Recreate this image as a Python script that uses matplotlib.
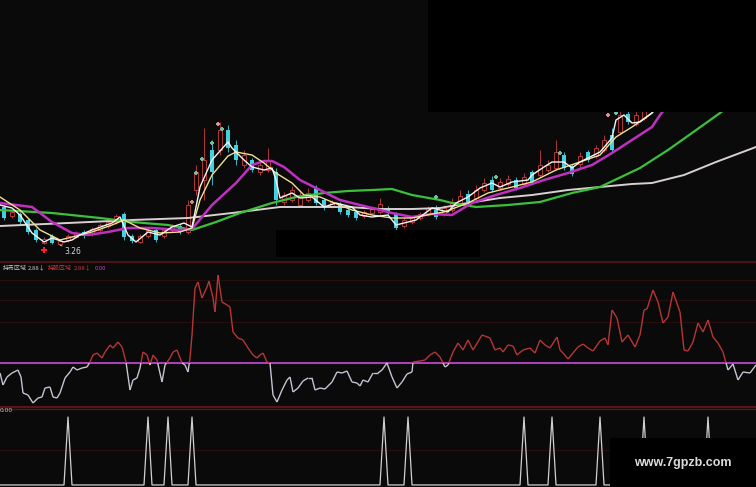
import numpy as np
import matplotlib
matplotlib.use("Agg")
import matplotlib.pyplot as plt
from matplotlib.collections import LineCollection
from matplotlib.patches import Rectangle

# -------------------------
# price candles (one every two days)
# -------------------------
candle_open = [3.64, 3.55, 3.57, 3.51, 3.41, 3.28, 3.35, 3.27, 3.31, 3.34,
               3.39, 3.37, 3.41, 3.45, 3.49, 3.57, 3.35, 3.29, 3.35, 3.41,
               3.35, 3.41, 3.45, 3.39, 3.81, 3.91, 4.21, 4.21, 4.41, 4.26,
               4.06, 4.11, 3.99, 4.01, 3.99, 3.69, 3.71, 3.66, 3.71, 3.83,
               3.71, 3.65, 3.67, 3.61, 3.59, 3.55, 3.58, 3.59, 3.63, 3.57,
               3.45, 3.49, 3.53, 3.57, 3.61, 3.57, 3.61, 3.67, 3.77, 3.73,
               3.81, 3.91, 3.83, 3.87, 3.91, 3.87, 3.99, 3.96, 4.01, 4.03,
               4.16, 4.05, 4.07, 4.19, 4.15, 4.21, 4.36, 4.39, 4.57, 4.47, 4.53]
candle_close = [3.53, 3.59, 3.49, 3.39, 3.31, 3.32, 3.28, 3.30, 3.35, 3.38,
                3.35, 3.42, 3.46, 3.49, 3.55, 3.34, 3.30, 3.35, 3.41, 3.31,
                3.41, 3.45, 3.39, 3.66, 3.99, 4.11, 3.99, 4.41, 4.23, 4.11,
                4.16, 4.01, 4.06, 4.11, 3.71, 3.76, 3.81, 3.76, 3.78, 3.68,
                3.64, 3.69, 3.59, 3.56, 3.53, 3.59, 3.62, 3.67, 3.59, 3.43,
                3.51, 3.54, 3.57, 3.63, 3.54, 3.63, 3.69, 3.75, 3.69, 3.81,
                3.88, 3.81, 3.89, 3.92, 3.83, 3.94, 3.89, 4.06, 4.06, 4.19,
                4.03, 3.97, 4.15, 4.11, 4.23, 4.31, 4.21, 4.56, 4.49, 4.56, 4.63]
candle_high = [3.66, 3.61, 3.59, 3.53, 3.43, 3.34, 3.37, 3.32, 3.37, 3.40,
               3.41, 3.44, 3.48, 3.51, 3.57, 3.59, 3.37, 3.37, 3.43, 3.43,
               3.43, 3.47, 3.47, 3.71, 4.06, 4.43, 4.31, 4.49, 4.46, 4.31,
               4.21, 4.13, 4.11, 4.23, 4.03, 3.79, 3.85, 3.81, 3.83, 3.86,
               3.73, 3.71, 3.69, 3.63, 3.61, 3.61, 3.65, 3.73, 3.65, 3.59,
               3.53, 3.56, 3.59, 3.65, 3.66, 3.66, 3.73, 3.81, 3.81, 3.86,
               3.93, 3.95, 3.93, 3.96, 3.94, 3.98, 4.01, 4.21, 4.11, 4.31,
               4.19, 4.07, 4.19, 4.21, 4.26, 4.36, 4.43, 4.63, 4.61, 4.61, 4.71]
candle_low = [3.51, 3.53, 3.47, 3.37, 3.29, 3.27, 3.27, 3.26, 3.29, 3.33,
              3.33, 3.35, 3.39, 3.43, 3.47, 3.31, 3.28, 3.28, 3.33, 3.29,
              3.33, 3.39, 3.37, 3.37, 3.76, 3.71, 3.86, 4.16, 4.19, 4.06,
              4.03, 3.99, 3.96, 3.99, 3.66, 3.66, 3.69, 3.64, 3.69, 3.66,
              3.61, 3.63, 3.57, 3.54, 3.51, 3.53, 3.56, 3.57, 3.57, 3.41,
              3.43, 3.47, 3.51, 3.55, 3.52, 3.55, 3.59, 3.65, 3.67, 3.71,
              3.79, 3.79, 3.81, 3.85, 3.81, 3.85, 3.87, 3.94, 3.99, 4.01,
              4.01, 3.95, 4.03, 4.09, 4.13, 4.19, 4.19, 4.37, 4.47, 4.45, 4.51]
candle_day = np.arange(1, 2 * len(candle_open), 2)

# -------------------------
# moving averages (read at sample days)
# -------------------------
ma5_day = [0, 3, 5, 8, 11, 13, 16, 18, 20, 23, 28, 30, 32, 34, 37, 40, 43, 46, 48,
           50, 53, 57, 58, 61, 63, 66, 68, 69, 70, 73, 75, 78, 81, 84, 88, 90, 93,
           97, 99, 102, 104, 108, 112, 114, 117, 120, 123, 125, 128, 132, 133, 136,
           138, 141, 143, 145, 148, 150, 153, 154, 156, 158, 160, 163, 165]
ma5 = [3.66, 3.63, 3.56, 3.38, 3.29, 3.33, 3.29, 3.31, 3.36, 3.41, 3.48, 3.54,
       3.36, 3.29, 3.39, 3.36, 3.44, 3.48, 3.44, 3.84, 4.11, 4.29, 4.23, 4.11,
       4.04, 4.01, 4.03, 3.91, 3.73, 3.78, 3.73, 3.74, 3.64, 3.68, 3.64, 3.56,
       3.54, 3.56, 3.46, 3.49, 3.51, 3.63, 3.59, 3.68, 3.74, 3.83, 3.88, 3.84,
       3.89, 3.91, 3.96, 4.04, 4.09, 4.09, 4.03, 4.09, 4.15, 4.19, 4.33, 4.51,
       4.56, 4.48, 4.49, 4.58, 4.71]

ma10_day = [0, 5, 10, 15, 18, 23, 28, 31, 35, 40, 45, 48, 50, 53, 57, 59, 63, 66,
            69, 73, 76, 80, 83, 88, 93, 98, 103, 108, 111, 117, 122, 128, 133,
            139, 145, 150, 154, 158, 163, 166]
ma10 = [3.74, 3.61, 3.41, 3.31, 3.34, 3.39, 3.46, 3.51, 3.43, 3.38, 3.39, 3.43,
        3.71, 3.96, 4.15, 4.19, 4.16, 4.08, 3.98, 3.88, 3.76, 3.74, 3.69, 3.61,
        3.56, 3.53, 3.53, 3.57, 3.59, 3.68, 3.78, 3.84, 3.89, 4.01, 4.09, 4.16,
        4.34, 4.44, 4.58, 4.71]

ma20_day = [0, 8, 13, 18, 22, 27, 32, 38, 45, 48, 53, 59, 63, 66, 68, 71, 75, 80,
            85, 92, 98, 103, 108, 113, 118, 124, 130, 136, 142, 148, 153, 158,
            163, 165, 168]
ma20 = [3.68, 3.64, 3.49, 3.38, 3.36, 3.39, 3.43, 3.43, 3.41, 3.42, 3.66, 3.88,
        4.06, 4.10, 4.10, 4.04, 3.91, 3.81, 3.71, 3.64, 3.58, 3.54, 3.57, 3.56,
        3.68, 3.76, 3.83, 3.91, 3.98, 4.06, 4.18, 4.31, 4.44, 4.56, 4.71]

ma60_day = [0, 13, 25, 33, 42, 48, 54, 60, 68, 74, 81, 87, 93, 98, 103, 110, 113,
            119, 127, 135, 143, 150, 160, 167, 173, 180, 184]
ma60 = [3.61, 3.58, 3.53, 3.49, 3.46, 3.41, 3.49, 3.58, 3.68, 3.74, 3.78, 3.80,
        3.81, 3.82, 3.76, 3.71, 3.68, 3.64, 3.66, 3.69, 3.78, 3.84, 4.03, 4.21,
        4.38, 4.58, 4.71]

ma120_day = [0, 17, 33, 47, 58, 70, 87, 95, 103, 110, 117, 125, 133, 142, 150,
             158, 163, 171, 179, 189]
ma120 = [3.45, 3.48, 3.51, 3.53, 3.58, 3.64, 3.64, 3.62, 3.62, 3.63, 3.68, 3.73,
         3.76, 3.81, 3.84, 3.87, 3.88, 3.96, 4.09, 4.24]

# signal markers above candles
mark_day = [48, 49, 50.5, 53, 54.5, 55.5, 109, 124, 140, 152, 154]
mark_price = [3.69, 3.98, 4.12, 4.28, 4.47, 4.42, 3.74, 3.94, 4.18, 4.56, 4.58]
mark_color = ["#d88080", "#70c0a0", "#70c0a0", "#70c0a0", "#e09090", "#70c0a0",
              "#70c0a0", "#70c0a0", "#70c0a0", "#e09090", "#70c0a0"]
low_day, low_price = 15, 3.26
buy_day, buy_price = 11, 3.21

# -------------------------
# 持币/持股 indicator
# -------------------------
ind_day = [0, 0.75, 1.75, 3, 4, 4.5, 5.25, 5.75, 7, 8.25, 9.5, 10.5, 11.25, 12.5,
           13.25, 14.25, 15, 16.25, 17.5, 18.25, 19.25, 20.5, 21.75, 22.5, 23.25,
           24.25, 25.5, 26.25, 27.5, 28.25, 29.5, 30.5, 31.5, 32.5, 33.25, 34.25,
           35, 35.75, 36.75, 37.5, 38.25, 39.25, 40.5, 41.25, 42.5, 43.25, 44.25,
           45.5, 46.25, 47, 47.5, 48, 48.75, 49.5, 50.5, 51.75, 52.25, 53.25, 53.75,
           54.5, 55.5, 56.75, 57.5, 58.25, 59.5, 60.75, 62, 63.25, 64.25, 65, 65.75,
           66.75, 67.5, 68.25, 69.25, 70.5, 71.75, 72.5, 73.25, 74.5, 75.75, 77, 78,
           78.75, 80, 81.25, 83, 84.25, 85.5, 86.75, 88, 89.25, 90, 90.75, 92, 93.25,
           94.5, 95.5, 96.75, 98, 99.25, 100.5, 101.75, 103, 103.25, 105, 106.25,
           107.5, 108.75, 110, 111.25, 112, 113.25, 114.5, 115.75, 117, 118.25,
           120.5, 122.5, 123.75, 125, 125.75, 127, 128.25, 129.25, 130.75, 132.5,
           133.75, 135, 136.25, 137.5, 139.25, 140, 140.75, 142, 143.25, 144.5,
           145.75, 147, 148.25, 150, 151.25, 152, 153, 154.25, 155.5, 157, 158.75,
           160, 161, 161.75, 163.25, 164.5, 165.75, 167, 168.25, 170, 171, 172,
           173.25, 174.5, 175.75, 177, 178.25, 179.5, 180.75, 182, 183.25, 184.5,
           185.75, 187.5, 189]
ind_val = [34, 22, 30, 34, 36, 37, 30, 14, 12, 4, 9, 10, 19, 20, 10, 9, 14, 29, 35,
           40, 37, 39, 40, 45, 52, 54, 49, 55, 62, 59, 65, 60, 45, 17, 27, 29, 39,
           55, 52, 42, 52, 47, 25, 42, 49, 55, 57, 44, 42, 35, 49, 72, 119, 125, 109,
           120, 126, 109, 95, 132, 105, 102, 100, 75, 69, 67, 59, 52, 49, 52, 54, 45,
           44, 12, 5, 17, 27, 30, 15, 19, 26, 29, 29, 17, 19, 18, 25, 35, 34, 36, 25,
           24, 21, 27, 25, 34, 34, 37, 44, 30, 19, 25, 33, 35, 45, 46, 47, 52, 55, 50,
           40, 42, 55, 64, 57, 67, 57, 72, 69, 57, 59, 55, 62, 61, 52, 57, 59, 54, 67,
           62, 59, 70, 57, 54, 48, 54, 60, 63, 59, 56, 66, 69, 62, 97, 89, 65, 72, 60,
           72, 97, 98, 117, 105, 84, 90, 115, 95, 57, 56, 65, 84, 75, 87, 70, 64, 55,
           37, 43, 27, 35, 34, 42]
ind_level = 44
ind_grid = [127, 107, 85]
legend_val = ["2.88", "2.88", "0.00"]

# -------------------------
# bottom signal spikes
# -------------------------
spike_days = [17, 37, 42, 48, 96, 102, 131, 138, 150, 161, 177]
n_days = 190

BG = "#0a0a0a"
SEP = "#5a1414"
FAINT = "#2a0d0d"
W, H = 756, 487

fig = plt.figure(figsize=(W / 100, H / 100), dpi=100, facecolor=BG)


def rect(top, bottom):
    return [0, 1 - bottom / H, 1, (bottom - top) / H]


ax = fig.add_axes(rect(0, 260))
mid = fig.add_axes(rect(262, 407))
bot = fig.add_axes(rect(409, 487))
for a in (ax, mid, bot):
    a.set_facecolor(BG)
    a.set_xlim(0, 189)
    a.set_xticks([])
    a.set_yticks([])
    for s in a.spines.values():
        s.set_visible(False)

# -------------------------
# main price panel
# -------------------------
ax.set_ylim(3.11, 5.71)
for d, o, c, h, l in zip(candle_day, candle_open, candle_close, candle_high, candle_low):
    if c >= o:
        col = "#c84040"
        ax.vlines(d, l, h, color=col, lw=0.6, zorder=2)
        ax.bar(d, c - o, bottom=o, width=0.8, facecolor=BG, edgecolor=col, lw=0.6, zorder=3)
    else:
        col = "#45d0e0"
        ax.vlines(d, l, h, color=col, lw=0.6, zorder=2)
        ax.bar(d, o - c, bottom=c, width=0.8, color=col, lw=0, zorder=3)

ax.plot(ma120_day, ma120, color="#d8d0d0", lw=1.4, zorder=4)
ax.plot(ma60_day, ma60, color="#3cc03c", lw=1.6, zorder=4)
ax.plot(ma20_day, ma20, color="#c030c0", lw=1.8, zorder=5)
ax.plot(ma10_day, ma10, color="#f0e090", lw=1.0, zorder=6)
ax.plot(ma5_day, ma5, color="#f4f4f4", lw=1.0, zorder=7)

ax.scatter(mark_day, mark_price, s=10, marker="P", c=mark_color, lw=0, zorder=8)
ax.scatter([buy_day], [buy_price], s=22, marker="P", c="#ff2020", lw=0, zorder=8)
ax.annotate("3.26", xy=(low_day, low_price), xytext=(16.2, 3.17), color="#d8d8d8",
            fontsize=5.5, arrowprops=dict(arrowstyle="-", color="#d8d8d8", lw=0.6), zorder=8)

# -------------------------
# middle indicator panel
# -------------------------
mid.set_ylim(0, 145)
mid.spines["top"].set_visible(True)
mid.spines["top"].set_color(SEP)
mid.spines["top"].set_linewidth(1.2)
mid.spines["bottom"].set_visible(True)
mid.spines["bottom"].set_color(SEP)
mid.spines["bottom"].set_linewidth(1.5)
for g in ind_grid:
    mid.axhline(g, color=FAINT, lw=0.8)
mid.axhline(ind_level, color="#b040c0", lw=1.4)

hi_segs, lo_segs = [], []
for x0, y0, x1, y1 in zip(ind_day[:-1], ind_val[:-1], ind_day[1:], ind_val[1:]):
    if (y0 - ind_level) * (y1 - ind_level) < 0:
        xc = x0 + (ind_level - y0) * (x1 - x0) / (y1 - y0)
        (hi_segs if y0 > ind_level else lo_segs).append([(x0, y0), (xc, ind_level)])
        (hi_segs if y1 > ind_level else lo_segs).append([(xc, ind_level), (x1, y1)])
    else:
        (hi_segs if max(y0, y1) > ind_level else lo_segs).append([(x0, y0), (x1, y1)])
mid.add_collection(LineCollection(hi_segs, colors="#b83535", lw=1.0, zorder=3))
mid.add_collection(LineCollection(lo_segs, colors="#c4c4d4", lw=1.0, zorder=3))

cjk = ["Noto Sans CJK SC", "DejaVu Sans"]
ty = 1 - 268 / H
fs = 4.3
fig.text(3 / W, ty, "持币区域", color="#c8c8c8", fontsize=fs, family=cjk, va="center")
fig.text(28 / W, ty, legend_val[0] + "↓", color="#c8c8c8", fontsize=fs, family=cjk, va="center")
fig.text(48 / W, ty, "持股区域", color="#d03535", fontsize=fs, family=cjk, va="center")
fig.text(74 / W, ty, legend_val[1] + "↓", color="#d03535", fontsize=fs, family=cjk, va="center")
fig.text(95 / W, ty, legend_val[2], color="#c040c0", fontsize=fs, family=cjk, va="center")

# -------------------------
# bottom signal panel
# -------------------------
signal = np.zeros(n_days)
signal[spike_days] = 1
bot.set_ylim(-0.03, 1.118)
bot.spines["top"].set_visible(True)
bot.spines["top"].set_color(SEP)
bot.spines["top"].set_linewidth(1.0)
bot.axhline(0.515, color=FAINT, lw=0.8)
bot.plot(np.arange(n_days), signal, color="#d0d0d0", lw=0.9)
fig.text(0, 1 - 411 / H, "0.00", color="#c8c8c8", fontsize=fs, va="center")

# -------------------------
# black cover boxes
# -------------------------
for x0, y0, x1, y1 in [(428, 0, 756, 112), (276, 230, 480, 257), (610, 438, 756, 487)]:
    fig.add_artist(Rectangle((x0 / W, 1 - y1 / H), (x1 - x0) / W, (y1 - y0) / H,
                             transform=fig.transFigure, facecolor="#000000",
                             edgecolor="none", zorder=10))
fig.text(683 / W, 1 - 463 / H, "www.7gpzb.com", color="#dcdcdc", fontsize=9,
         family="Liberation Sans", weight="bold", ha="center", va="center", zorder=11)

fig.savefig("out.png", dpi=100, facecolor=BG)
